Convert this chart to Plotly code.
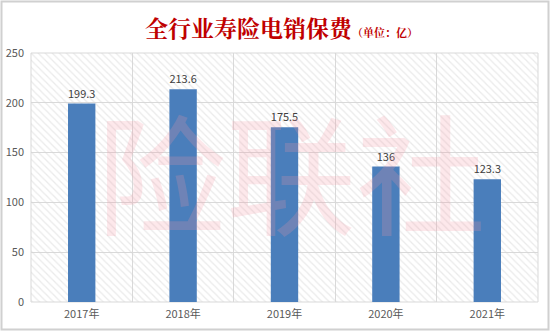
import plotly.graph_objects as go

years = ["2017年", "2018年", "2019年", "2020年", "2021年"]
premiums = [199.3, 213.6, 175.5, 136, 123.3]
labels = ["199.3", "213.6", "175.5", "136", "123.3"]
y_ticks = [0, 50, 100, 150, 200, 250]

W, H = 550, 331
L, R, T, B = 31, 12, 53, 29
pw, ph = W - L - R, H - T - B

fig = go.Figure()

# hatched plot background (spans all categories)
fig.add_trace(go.Bar(
    x=[years[2]], y=[y_ticks[-1]], width=[len(years)],
    marker=dict(color="rgba(0,0,0,0)", line=dict(width=0),
                pattern=dict(shape="\\", fgcolor="#d6d6d6", bgcolor="rgba(0,0,0,0)",
                             size=5, solidity=0.25)),
    hoverinfo="skip", showlegend=False,
))

fig.add_trace(go.Bar(
    x=years, y=premiums, width=0.27,
    marker=dict(color="#4a7ebb", line=dict(width=0)),
    text=labels, textposition="outside", cliponaxis=False,
    textfont=dict(family="Microsoft YaHei, Noto Sans CJK SC, sans-serif", size=11, color="#404040"),
    showlegend=False,
))

fig.update_layout(
    width=W, height=H,
    margin=dict(l=L, r=R, t=T, b=B),
    paper_bgcolor="white", plot_bgcolor="white",
    barmode="overlay",
    xaxis=dict(type="category", categoryorder="array", categoryarray=years,
               tickson="boundaries", showgrid=True, automargin=False,
               gridcolor="#d9d9d9", gridwidth=1, ticks="", showline=False,
               range=[-0.5, 4.5], ticklabelstandoff=4,
               tickfont=dict(family="Noto Sans CJK SC, sans-serif", size=11, color="#595959"),
               zeroline=False),
    yaxis=dict(range=[0, 250], tickvals=y_ticks, showgrid=True, automargin=False,
               gridcolor="#d9d9d9", gridwidth=1, zeroline=False, showline=False,
               tickfont=dict(family="Noto Sans CJK SC, sans-serif", size=11, color="#595959"),
               ticklabelstandoff=6),
    shapes=[
        dict(type="rect", xref="paper", yref="paper",
             x0=(1.5 - L) / pw, x1=(W - 1.5 - L) / pw,
             y0=-(B - 1.5) / ph, y1=1 + (T - 1.5) / ph,
             line=dict(color="#d0d0d0", width=2), layer="below"),
        dict(type="rect", xref="paper", yref="paper", x0=0, x1=1, y0=0, y1=1,
             line=dict(color="#d9d9d9", width=1), layer="below"),
    ],
    annotations=[
        dict(text="<b>全行业寿险电销保费</b><span style='font-size:11px'><b>（单位：亿）</b></span>",
             xref="paper", yref="paper", x=(281 - L) / pw, y=1 + (T - 27) / ph,
             xanchor="center", yanchor="middle", showarrow=False,
             font=dict(family="Noto Serif CJK SC, Noto Sans CJK SC, serif", size=23, color="#c00000")),
        dict(text="险联社", xref="paper", yref="paper",
             x=(291 - L) / pw, y=1 - (168 - T) / ph, xanchor="center", yanchor="middle",
             showarrow=False,
             font=dict(family="Noto Sans CJK SC, sans-serif", size=130, color="rgba(245,150,165,0.22)")),
    ],
)

fig.write_html("out.html")
